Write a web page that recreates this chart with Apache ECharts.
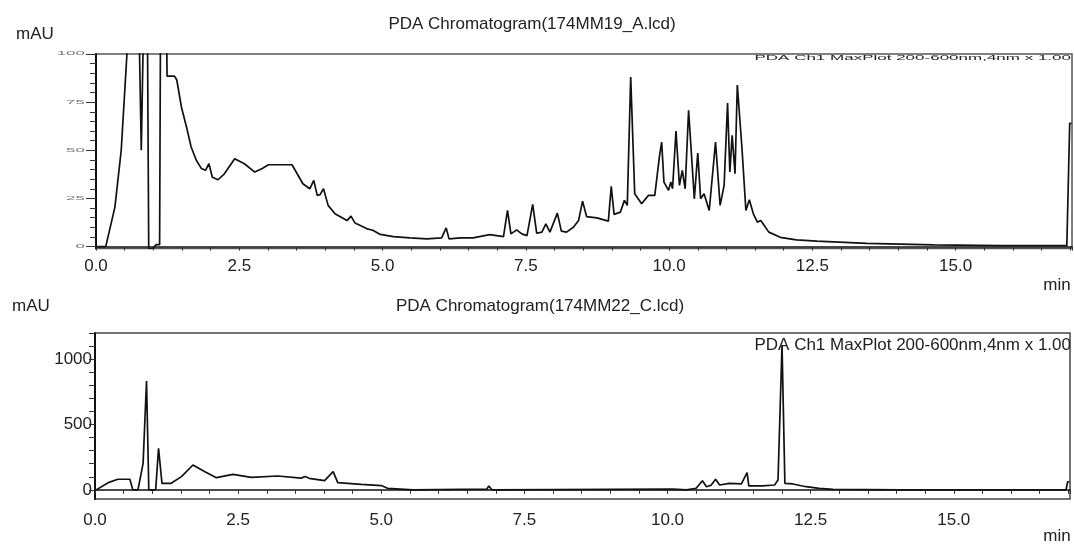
<!DOCTYPE html>
<html>
<head>
<meta charset="utf-8">
<script src="https://cdn.jsdelivr.net/npm/echarts@6/dist/echarts.min.js"></script>
<style>
html,body{margin:0;padding:0;background:#fff;}
#c{width:1074px;height:545px;}
</style>
</head>
<body>
<div id="c"></div>
<script>
// ---- Data (retention time in min, absorbance in mAU) ----
const topTitle = 'PDA Chromatogram(174MM19_A.lcd)';
const bottomTitle = 'PDA Chromatogram(174MM22_C.lcd)';
const channelLabel = 'PDA Ch1 MaxPlot 200-600nm,4nm x 1.00';
const yUnit = 'mAU';
const xUnit = 'min';

const topYTicks = [0, 25, 50, 75, 100];
const bottomYTicks = [0, 500, 1000];

const topTime = [0, 0.17, 0.33, 0.44, 0.54, 0.59, 0.72, 0.76, 0.79, 0.82, 0.84, 0.88, 0.90, 0.92, 0.99, 1.05, 1.11, 1.13, 1.22, 1.24, 1.37, 1.41, 1.49, 1.58, 1.66, 1.75, 1.84, 1.91, 1.97, 2.03, 2.13, 2.24, 2.42, 2.59, 2.77, 2.90, 3.01, 3.42, 3.51, 3.61, 3.73, 3.80, 3.86, 3.91, 3.97, 4.05, 4.17, 4.38, 4.45, 4.52, 4.73, 4.83, 4.96, 5.19, 5.48, 5.77, 6.03, 6.11, 6.16, 6.36, 6.58, 6.87, 7.11, 7.18, 7.24, 7.34, 7.43, 7.52, 7.62, 7.69, 7.78, 7.85, 7.92, 8.05, 8.12, 8.21, 8.33, 8.42, 8.49, 8.56, 8.74, 8.94, 8.99, 9.04, 9.15, 9.22, 9.27, 9.33, 9.40, 9.52, 9.64, 9.75, 9.83, 9.87, 9.91, 9.99, 10.03, 10.06, 10.12, 10.18, 10.23, 10.28, 10.34, 10.44, 10.50, 10.55, 10.61, 10.70, 10.81, 10.89, 10.96, 11.02, 11.06, 11.10, 11.15, 11.19, 11.27, 11.34, 11.40, 11.47, 11.54, 11.60, 11.74, 11.94, 12.22, 12.58, 13.45, 14.62, 15.78, 16.94, 16.99, 17.02];
const topValue = [0, 0, 20.5, 50, 100, 150, 150, 100, 50, 100, 150, 150, 100, -1, -1, 1, 1, 150, 150, 88.5, 88.5, 86.5, 72.5, 62, 51.7, 44.8, 40.5, 39.6, 43, 36, 34.7, 37.8, 45.6, 43, 38.7, 40.5, 42.5, 42.5, 37.8, 32.6, 30, 34.4, 26.6, 27, 30, 21.4, 17, 13.5, 15.8, 12.2, 9.2, 8.5, 6.3, 5.2, 4.5, 4, 4.5, 9.7, 4, 4.5, 4.5, 6.2, 5.2, 18.75, 6.6, 8.7, 6.6, 5.7, 21.9, 6.9, 7.5, 11.8, 7.5, 17.4, 8, 7.5, 10, 13.5, 23.6, 15.6, 14.9, 13.2, 31.25, 16.7, 17.9, 24, 21.4, 88, 27.4, 22.2, 26.6, 26.6, 46.5, 54.3, 33.5, 29.2, 33.5, 30, 60, 31.8, 39.6, 30, 70.8, 24.8, 48.6, 24.8, 27.4, 18.75, 54.3, 21.4, 31.8, 74.6, 38.7, 57.8, 37.8, 83.9, 51.7, 18.75, 24.3, 17, 12.7, 13.5, 7.5, 4.8, 3.5, 2.8, 1.7, 0.9, 0.5, 0.5, 64, 64];

const bottomTime = [0, 0.23, 0.40, 0.61, 0.66, 0.75, 0.84, 0.90, 0.94, 1.06, 1.11, 1.17, 1.33, 1.51, 1.71, 1.92, 2.12, 2.41, 2.73, 3.19, 3.60, 3.67, 3.74, 4.01, 4.16, 4.24, 4.65, 5.00, 5.11, 5.56, 6.84, 6.88, 6.93, 8.00, 10.09, 10.33, 10.50, 10.61, 10.68, 10.76, 10.84, 10.91, 11.08, 11.29, 11.31, 11.39, 11.42, 11.66, 11.87, 11.93, 12.00, 12.05, 12.19, 12.42, 12.65, 12.89, 14.05, 16.96, 16.99, 17.02];
const bottomValue = [-6, 55, 81, 81, 0, 0, 203, 833, 0, 0, 318, 50, 50, 101, 190, 139, 93, 119, 96, 106, 90, 102, 88, 70, 139, 55, 42, 33, 12, 0, 5, 30, 0, 2, 5, 0, 12, 70, 24, 35, 81, 37, 50, 45, 60, 131, 30, 30, 37, 75, 1108, 50, 45, 24, 12, 4, 0, 0, 62, 62];

// ---- Layout ----
const X_MAX = 17.03;
const lineColor = '#111';
const textColor = '#222';
const FONT = '"Liberation Sans", Arial, sans-serif';

function pairs(t, v) { return t.map((x, i) => [x, v[i]]); }
function range(a, b, s) { const r = []; for (let x = a; x <= b + 1e-9; x += s) r.push(x); return r; }

const chart = echarts.init(document.getElementById('c'), null, { renderer: 'canvas' });

function xAxis(gridIndex, margin) {
  return {
    type: 'value', gridIndex, min: 0, max: X_MAX, interval: 2.5,
    axisLine: { show: true, lineStyle: { color: lineColor, width: 1.5 } },
    axisTick: { show: true, length: 4, lineStyle: { color: '#333' } },
    minorTick: { show: true, splitNumber: 5, length: 4, lineStyle: { color: '#333' } },
    splitLine: { show: false },
    axisLabel: { show: true, margin, color: textColor, fontSize: 17, fontFamily: FONT,
      showMaxLabel: false, formatter: v => v.toFixed(1) }
  };
}

const option = {
  animation: false,
  backgroundColor: '#fff',
  grid: [
    { left: 96, top: 54, width: 976, height: 194.5, show: true, borderColor: '#555', borderWidth: 1.5, containLabel: false },
    { left: 95, top: 333, width: 975, height: 166, show: true, borderColor: '#444', borderWidth: 1.5, containLabel: false }
  ],
  xAxis: [xAxis(0, 9), xAxis(1, 13)],
  yAxis: [
    { type: 'value', gridIndex: 0, min: -1, max: 100, position: 'left',
      axisLine: { show: true, lineStyle: { color: lineColor, width: 2 } },
      axisTick: { show: true, length: 6, customValues: range(0, 100, 5), lineStyle: { color: '#333' } },
      axisLabel: { show: false }, splitLine: { show: false } },
    { type: 'value', gridIndex: 0, min: -1, max: 100, position: 'left', offset: 0,
      axisLine: { show: false },
      axisTick: { show: true, length: 10, customValues: topYTicks, lineStyle: { color: '#333' } },
      axisLabel: { show: false }, splitLine: { show: false } },
    { type: 'value', gridIndex: 1, min: -70, max: 1200, position: 'left',
      axisLine: { show: true, lineStyle: { color: lineColor, width: 2 } },
      axisTick: { show: true, length: 6, customValues: range(0, 1200, 100), lineStyle: { color: '#333' } },
      axisLabel: { show: true, margin: 3, customValues: bottomYTicks, color: textColor, fontSize: 17, fontFamily: FONT,
        formatter: v => String(v) },
      splitLine: { show: false } }
  ],
  series: [
    { type: 'line', xAxisIndex: 0, yAxisIndex: 0, data: pairs(topTime, topValue), showSymbol: false,
      clip: true, lineStyle: { color: lineColor, width: 1.7 }, silent: true },
    { type: 'line', xAxisIndex: 1, yAxisIndex: 2, data: pairs(bottomTime, bottomValue), showSymbol: false,
      clip: true, lineStyle: { color: lineColor, width: 1.7 }, silent: true }
  ]
};
chart.setOption(option);

// ---- Texts ----
function txt(text, x, y, align, vAlign, extra, fill) {
  return Object.assign({ type: 'text', x, y, z: 100, silent: true,
    style: { text, fill: fill || textColor, font: '17px ' + FONT, align, verticalAlign: vAlign } }, extra || {});
}
const g = [
  txt(topTitle, 532, 24, 'center', 'middle'),
  txt(bottomTitle, 540, 306, 'center', 'middle'),
  txt(yUnit, 35, 34, 'center', 'middle'),
  txt(yUnit, 31, 306, 'center', 'middle'),
  txt(xUnit, 1057, 285, 'center', 'middle'),
  txt(xUnit, 1057, 536, 'center', 'middle'),
  txt(channelLabel, 1071, 345, 'right', 'middle'),
  // clipped-looking channel label in the upper panel
  txt(channelLabel, 1071, 58, 'right', 'middle', { scaleY: 0.4 })
];
// squashed (clipped-looking) tick labels on the upper y axis, positioned through the axis scale
topYTicks.forEach(v => {
  const p = chart.convertToPixel({ xAxisIndex: 0, yAxisIndex: 0 }, [0, v]);
  g.push(txt(String(v), 85, p[1], 'right', 'middle', { scaleY: 0.3 }, '#777'));
});
chart.setOption({ graphic: g });
</script>
</body>
</html>
